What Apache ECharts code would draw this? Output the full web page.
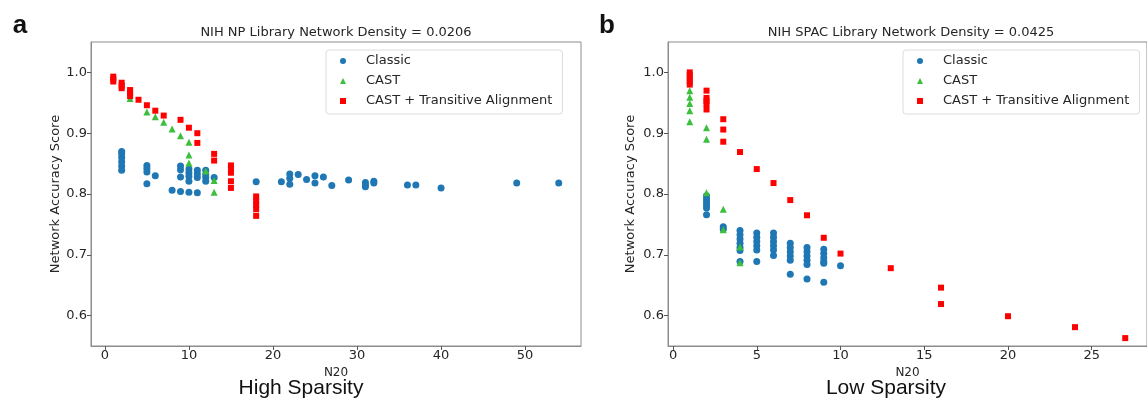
<!DOCTYPE html>
<html><head><meta charset="utf-8">
<script src="https://cdn.jsdelivr.net/npm/echarts@6/dist/echarts.min.js"></script>
<style>html,body{margin:0;padding:0;background:#fff}#c{width:1147px;height:407px}</style>
</head><body><div id="c"></div>
<script>
const seriesNames = ['Classic', 'CAST', 'CAST + Transitive Alignment'];
const panelTitles = ['NIH NP Library Network Density = 0.0206', 'NIH SPAC Library Network Density = 0.0425'];
const panelLetters = ['a', 'b'];
const sparsityLabels = ['High Sparsity', 'Low Sparsity'];
const xName = 'N20';
const yName = 'Network Accuracy Score';
const yTicks = [0.6, 0.7, 0.8, 0.9, 1.0];
const npXTicks = [0, 10, 20, 30, 40, 50];
const spacXTicks = [0, 5, 10, 15, 20, 25];

// NIH NP library (panel a)
const npClassic = [
  [2,0.870],[2,0.866],[2,0.860],[2,0.853],[2,0.846],[2,0.839],
  [5,0.847],[5,0.842],[5,0.836],[5,0.817],
  [6,0.830],[8,0.806],
  [9,0.846],[9,0.840],[9,0.828],[9,0.804],
  [10,0.841],[10,0.835],[10,0.829],[10,0.821],[10,0.803],
  [11,0.839],[11,0.833],[11,0.827],[11,0.802],
  [12,0.839],[12,0.832],[12,0.827],[12,0.821],
  [13,0.827],[18,0.820],[21,0.820],
  [22,0.833],[22,0.826],[22,0.816],
  [23,0.832],[24,0.824],[25,0.830],[25,0.818],[26,0.828],[27,0.814],
  [29,0.823],[31,0.819],[31,0.815],[31,0.812],[32,0.821],[32,0.818],
  [36,0.815],[37,0.815],[40,0.810],[49,0.818],[54,0.818]
];
const npCast = [
  [3,0.957],[5,0.935],[6,0.927],[7,0.918],[8,0.907],[9,0.896],
  [10,0.885],[10,0.864],[10,0.851],[12,0.838],[13,0.822],[13,0.803]
];
const npCastTA = [
  [1,0.993],[1,0.989],[1,0.985],
  [2,0.983],[2,0.978],[2,0.974],
  [3,0.971],[3,0.966],[3,0.961],
  [4,0.955],[5,0.946],[6,0.937],[7,0.929],[9,0.922],[10,0.909],
  [11,0.900],[11,0.884],[13,0.866],[13,0.855],
  [15,0.847],[15,0.841],[15,0.835],[15,0.821],[15,0.810],
  [18,0.796],[18,0.789],[18,0.782],[18,0.775],[18,0.764]
];

// NIH SPAC library (panel b)
const spacClassic = [
  [2,0.797],[2,0.792],[2,0.787],[2,0.782],[2,0.777],[2,0.766],
  [3,0.746],[3,0.742],
  [4,0.740],[4,0.733],[4,0.726],[4,0.719],[4,0.712],[4,0.707],[4,0.689],
  [5,0.736],[5,0.729],[5,0.722],[5,0.715],[5,0.708],[5,0.689],
  [6,0.736],[6,0.729],[6,0.722],[6,0.715],[6,0.708],[6,0.699],
  [7,0.719],[7,0.712],[7,0.705],[7,0.698],[7,0.691],[7,0.668],
  [8,0.712],[8,0.705],[8,0.698],[8,0.691],[8,0.684],[8,0.660],
  [9,0.709],[9,0.702],[9,0.695],[9,0.689],[9,0.686],[9,0.655],
  [10,0.682]
];
const spacCast = [
  [1,0.970],[1,0.959],[1,0.949],[1,0.937],[1,0.919],
  [2,0.909],[2,0.890],[2,0.802],
  [3,0.775],[3,0.741],
  [4,0.713],[4,0.687]
];
const spacCastTA = [
  [1,1.000],[1,0.995],[1,0.990],[1,0.985],[1,0.980],
  [2,0.970],[2,0.958],[2,0.953],[2,0.948],[2,0.939],
  [3,0.923],[3,0.906],[3,0.886],
  [4,0.869],[5,0.841],[6,0.818],[7,0.790],[8,0.765],[9,0.728],[10,0.702],
  [13,0.678],[16,0.646],[16,0.619],[20,0.599],[24,0.581],[27,0.563]
];

const colors = ['#1f77b4', '#3cbf3c', '#ff0000'];
const symbols = ['circle', 'triangle', 'rect'];
const sizes = [7, 7, 6];
const font = 'DejaVu Sans';
const textCol = '#262626';
const frameCol = '#8c8c8c';

const grids = [
  {left: 91, top: 42, width: 490, height: 304},
  {left: 668, top: 42, width: 486, height: 304}
];
const xRanges = [[-1.65, 56.65], [-0.3, 28.3]];
const xTickSets = [npXTicks, spacXTicks];
const panelData = [[npClassic, npCast, npCastTA], [spacClassic, spacCast, spacCastTA]];

const option = {
  animation: false,
  backgroundColor: '#fff',
  grid: grids.map(g => Object.assign({show: true, borderColor: frameCol, borderWidth: 1, containLabel: false}, g)),
  xAxis: [0, 1].map(i => ({
    type: 'value', gridIndex: i, min: xRanges[i][0], max: xRanges[i][1],
    name: xName, nameLocation: 'middle', nameGap: 17,
    nameTextStyle: {fontFamily: font, fontSize: 12, color: textCol},
    axisLine: {show: true, onZero: false, lineStyle: {color: frameCol}},
    axisTick: {show: true, length: 4, lineStyle: {color: '#555'}, customValues: xTickSets[i]},
    axisLabel: {fontFamily: font, fontSize: 13, color: textCol, margin: 3, customValues: xTickSets[i],
      formatter: v => String(Math.round(v))},
    splitLine: {show: false}
  })),
  yAxis: [0, 1].map(i => ({
    type: 'value', gridIndex: i, min: 0.55, max: 1.05,
    name: yName, nameLocation: 'middle', nameGap: i === 0 ? 29 : 31,
    nameTextStyle: {fontFamily: font, fontSize: 13, color: textCol},
    axisLine: {show: true, onZero: false, lineStyle: {color: frameCol}},
    axisTick: {show: true, length: 4, lineStyle: {color: '#555'}, customValues: yTicks},
    axisLabel: {fontFamily: font, fontSize: 13, color: textCol, margin: 4, customValues: yTicks,
      formatter: v => v.toFixed(1)},
    splitLine: {show: false}
  })),
  legend: [0, 1].map(i => ({
    orient: 'vertical',
    left: i === 0 ? 326 : 903, top: 50,
    data: seriesNames.map((n, k) => ({name: n, icon: symbols[k]})),
    itemWidth: 6, itemHeight: 6, itemGap: 6,
    padding: [4, 10, 6, 14],
    borderColor: '#dcdcdc', borderWidth: 1, borderRadius: 3,
    backgroundColor: 'rgba(255,255,255,0.8)',
    selectedMode: false,
    textStyle: {fontFamily: font, fontSize: 13, color: textCol, lineHeight: 14, padding: [0, 0, 0, 15]}
  })),
  series: [],
  graphic: [
    {type: 'text', x: 336, y: 33, style: {text: panelTitles[0], font: '13px "DejaVu Sans"', fill: textCol, align: 'center', verticalAlign: 'middle'}},
    {type: 'text', x: 911, y: 33, style: {text: panelTitles[1], font: '13px "DejaVu Sans"', fill: textCol, align: 'center', verticalAlign: 'middle'}},
    {type: 'text', x: 20, y: 26, style: {text: panelLetters[0], font: 'bold 26px "Liberation Sans"', fill: '#111', align: 'center', verticalAlign: 'middle'}},
    {type: 'text', x: 607, y: 26, style: {text: panelLetters[1], font: 'bold 26px "Liberation Sans"', fill: '#111', align: 'center', verticalAlign: 'middle'}},
    {type: 'text', x: 301, y: 388, style: {text: sparsityLabels[0], font: '21px "Liberation Sans"', fill: '#111', align: 'center', verticalAlign: 'middle'}},
    {type: 'text', x: 886, y: 388, style: {text: sparsityLabels[1], font: '21px "Liberation Sans"', fill: '#111', align: 'center', verticalAlign: 'middle'}}
  ]
};

[0, 1].forEach(p => {
  panelData[p].forEach((d, k) => {
    option.series.push({
      type: 'scatter', name: seriesNames[k], xAxisIndex: p, yAxisIndex: p,
      data: d, symbol: symbols[k], symbolSize: sizes[k],
      itemStyle: {color: colors[k], opacity: 1}, z: 2 + k
    });
  });
});

const chart = echarts.init(document.getElementById('c'), null, {renderer: 'canvas'});
chart.setOption(option);
</script>
</body></html>
